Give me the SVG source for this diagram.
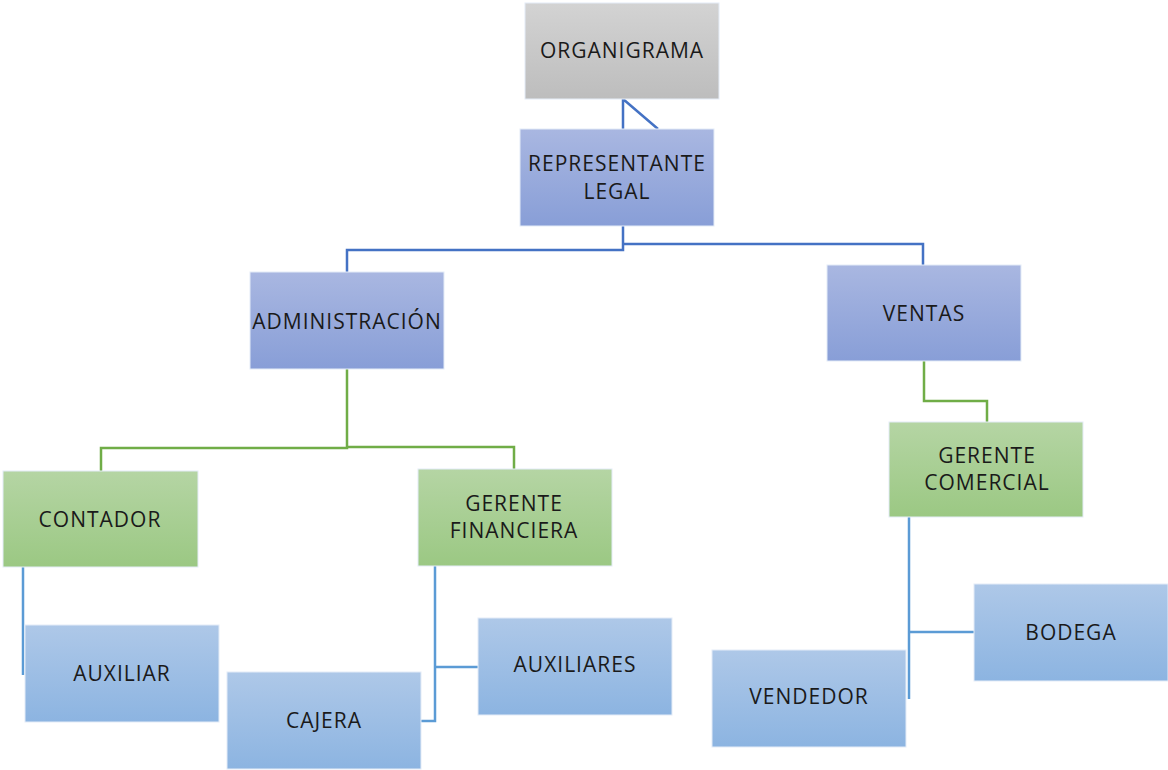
<svg xmlns="http://www.w3.org/2000/svg" width="1168" height="770" viewBox="0 0 1168 770">
<defs>
<linearGradient id="gGray" x1="0" y1="0" x2="0" y2="1"><stop offset="0" stop-color="#d3d3d3"/><stop offset="1" stop-color="#bdbdbd"/></linearGradient>
<linearGradient id="gPurple" x1="0" y1="0" x2="0" y2="1"><stop offset="0" stop-color="#a9b7e1"/><stop offset="1" stop-color="#889ed7"/></linearGradient>
<linearGradient id="gGreen" x1="0" y1="0" x2="0" y2="1"><stop offset="0" stop-color="#b5d5a4"/><stop offset="1" stop-color="#9bc883"/></linearGradient>
<linearGradient id="gBlue" x1="0" y1="0" x2="0" y2="1"><stop offset="0" stop-color="#aec8e8"/><stop offset="1" stop-color="#8cb4e1"/></linearGradient>
</defs>
<style>
.box { stroke: #e4ecf7; stroke-width: 1; }
text { font-family: "Open Sans", "Liberation Sans", sans-serif; font-size: 21px; letter-spacing: 1px; fill: #1a1a1a; text-anchor: middle; dominant-baseline: central; }
.c1 { fill: none; stroke: #4472c4; stroke-width: 2.5; }
.c2 { fill: none; stroke: #70ad47; stroke-width: 2.5; }
.c3 { fill: none; stroke: #5b9bd5; stroke-width: 2.5; }
</style>
<rect width="1168" height="770" fill="#ffffff"/>
<g id="connectors">
<path class="c1" d="M623 99 V129 M623 99 L658 129"/>
<path class="c1" d="M623 226 V250 H347 V272"/>
<path class="c1" d="M623 244 H923 V265"/>
<path class="c2" d="M347 369 V448 H101 V471"/>
<path class="c2" d="M347 447 H514 V469"/>
<path class="c2" d="M924 361 V401 H987 V422"/>
<path class="c3" d="M23 567 V675"/>
<path class="c3" d="M435 566 V721 H421 M435 667 H478"/>
<path class="c3" d="M909 517 V699 M909 632 H974"/>
</g>
<g id="organigrama"><rect class="box" x="525" y="3" width="194" height="96" fill="url(#gGray)"/><text x="622" y="50">ORGANIGRAMA</text></g>
<g id="representante"><rect class="box" x="520" y="129" width="194" height="97" fill="url(#gPurple)"/><text x="617" y="163">REPRESENTANTE</text><text x="617" y="191">LEGAL</text></g>
<g id="administracion"><rect class="box" x="250" y="272" width="194" height="97" fill="url(#gPurple)"/><text x="347" y="321">ADMINISTRACIÓN</text></g>
<g id="ventas"><rect class="box" x="827" y="265" width="194" height="96" fill="url(#gPurple)"/><text x="924" y="313">VENTAS</text></g>
<g id="contador"><rect class="box" x="3" y="471" width="195" height="96" fill="url(#gGreen)"/><text x="100" y="519">CONTADOR</text></g>
<g id="gerente-financiera"><rect class="box" x="418" y="469" width="194" height="97" fill="url(#gGreen)"/><text x="514" y="503">GERENTE</text><text x="514" y="530">FINANCIERA</text></g>
<g id="gerente-comercial"><rect class="box" x="889" y="422" width="194" height="95" fill="url(#gGreen)"/><text x="987" y="455">GERENTE</text><text x="987" y="482">COMERCIAL</text></g>
<g id="auxiliar"><rect class="box" x="25" y="625" width="194" height="97" fill="url(#gBlue)"/><text x="122" y="673">AUXILIAR</text></g>
<g id="cajera"><rect class="box" x="227" y="672" width="194" height="97" fill="url(#gBlue)"/><text x="324" y="720">CAJERA</text></g>
<g id="auxiliares"><rect class="box" x="478" y="618" width="194" height="97" fill="url(#gBlue)"/><text x="575" y="664">AUXILIARES</text></g>
<g id="vendedor"><rect class="box" x="712" y="650" width="194" height="97" fill="url(#gBlue)"/><text x="809" y="696">VENDEDOR</text></g>
<g id="bodega"><rect class="box" x="974" y="584" width="194" height="97" fill="url(#gBlue)"/><text x="1071" y="632">BODEGA</text></g>
</svg>
